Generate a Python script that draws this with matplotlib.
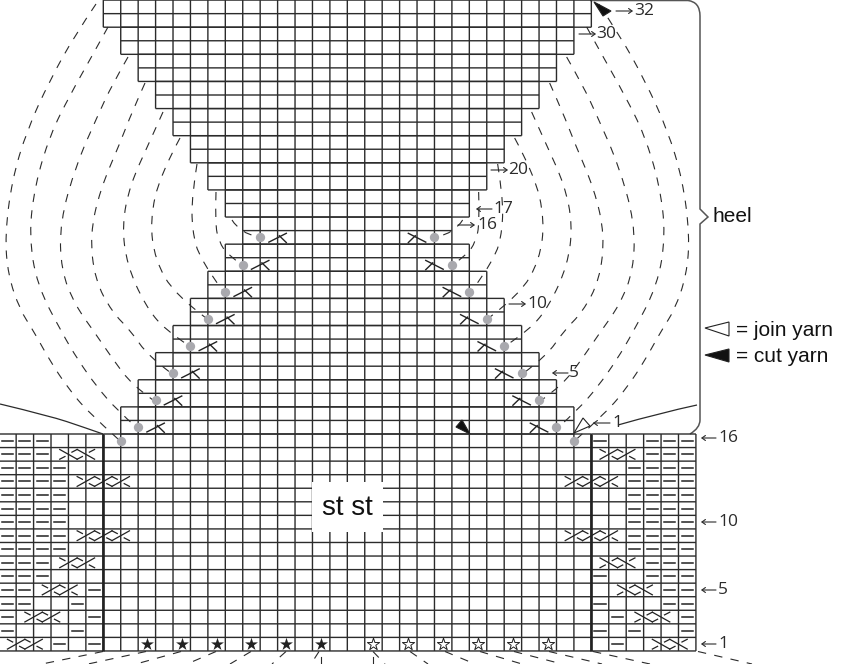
import numpy as np
import matplotlib
matplotlib.use('Agg')
import matplotlib.pyplot as plt
from matplotlib.path import Path as MplPath
from matplotlib.patches import PathPatch, Polygon, Rectangle

# chart layout, one stitch = W x H pixels, col 0 / heel row 0 at (X0, Y0)
W, H = 17.43, 13.56
X0, Y0 = 103.3, 434.0
DARK = '#2b2b2b'
MID = '#555555'

# heel rows (1 = bottom): first col of each row pair, from row 1 up
heel_left_cols = [1, 2, 3, 4, 5, 6, 7, 8, 7, 6, 5, 4, 3, 2, 1, 0]
RIB_ROWS = 16
BODY_COLS = 28
RIB_COLS = 6

# rib purl stitches, chart row: columns
left_purls = {16: [-6, -5, -4], 15: [-6, -5, -4], 14: [-6, -5, -4, -3],
              13: [-6, -5, -4, -3], 12: [-6, -5, -4, -3], 11: [-6, -5, -4, -3],
              10: [-6, -5, -4, -3], 9: [-6, -5, -4, -3], 8: [-6, -5, -4, -3],
              7: [-6, -5, -4], 6: [-6, -5, -4], 5: [-6, -5, -1], 4: [-6, -5, -2],
              3: [-6, -1], 2: [-6, -2], 1: [-3, -1]}
right_purls = {16: [28, 31, 32, 33], 15: [31, 32, 33], 14: [30, 31, 32, 33],
               13: [30, 31, 32, 33], 12: [30, 31, 32, 33], 11: [30, 31, 32, 33],
               10: [30, 31, 32, 33], 9: [30, 31, 32, 33], 8: [30, 31, 32, 33],
               7: [31, 32, 33], 6: [28, 31, 32, 33], 5: [32, 33], 4: [28, 32, 33],
               3: [29, 33], 2: [28, 30, 33], 1: [29]}

# cable crossings: (chart row, direction, grid lines they sit on)
crossings = [(15, -1, [-2, -1]), (13, 1, [-1, 0, 1]), (9, 1, [-1, 0, 1]),
             (7, 1, [-2, -1]), (5, 1, [-3, -2]), (3, 1, [-4, -3]), (1, 1, [-5, -4]),
             (15, 1, [29, 30]), (13, 1, [27, 28, 29]), (9, 1, [27, 28, 29]),
             (7, -1, [29, 30]), (5, -1, [30, 31]), (3, -1, [31, 32]), (1, -1, [32, 33])]

# slipped stitches at the heel shaping (dot col, heel row, 0 = last rib row)
dot_cols = [1, 2, 3, 4, 5, 6, 7, 8, 9]
dot_rows = [0, 1, 3, 5, 7, 9, 11, 13, 15]

filled_star_cols = [2, 4, 6, 8, 10, 12]
open_star_cols = [15, 17, 19, 21, 23, 25]

arcs_px = [
    [(96, 4), (75, 35), (50, 80), (27, 130), (12, 180), (5, 235), (8, 275), (20, 310),
     (33, 330), (50, 361), (68, 388), (88, 412), (118, 439)],
    [(108, 27), (92, 56), (70, 95), (50, 135), (35, 185), (29, 235), (37, 285),
     (62, 333), (78, 360), (97, 387), (117, 410), (136, 427)],
    [(128, 57), (112, 85), (98, 115), (76, 165), (60, 222), (61, 270), (75, 305),
     (95, 333), (112, 358), (132, 385), (153, 400)],
    [(145, 83), (132, 112), (120, 143), (100, 190), (90, 235), (95, 280), (112, 312),
     (131, 331), (148, 356), (171, 373)],
    [(163, 112), (149, 143), (130, 185), (122, 225), (127, 265), (145, 305), (165, 330),
     (188, 345)],
    [(180, 138), (160, 175), (150, 220), (155, 260), (175, 295), (206, 318)],
    [(197, 164), (192, 195), (192, 230), (200, 260), (223, 291)],
    [(216, 192), (215, 223), (219, 242), (228, 255), (241, 264)],
    [(232, 220), (240, 233), (258, 237)],
]

# fan of dashes below the chart: start on row 1 edge, end at image bottom
fan_left = [(103, 42), (146, 88), (181, 136), (216, 187), (251, 230), (286, 272), (319, 311)]
fan_right = [(373, 385), (410, 428), (445, 475), (480, 522), (514, 562), (549, 602),
             (593, 650), (698, 752)]
fan_vertical = [320.5, 373.0]

# (arrow start x, arrow end x, y, text, text x) in image pixels
row_labels = [(716, 701, 438, '16', 718), (716, 701, 522, '10', 718),
              (716, 701, 590, '5', 718), (716, 701, 644, '1', 718),
              (610, 593, 423, '1', 612), (568, 552, 373, '5', 569),
              (509, 526, 304, '10', 527), (458, 475, 225, '16', 477),
              (492, 476, 209, '17', 493), (491, 508, 170, '20', 508),
              (579, 596, 34, '30', 596), (616, 633, 11, '32', 634)]


def gx(px):
    return (np.asarray(px, dtype=float) - X0) / W


def gy(py):
    return (Y0 - np.asarray(py, dtype=float)) / H


def grid_pts(pts):
    pts = np.asarray(pts, dtype=float)
    return np.column_stack([gx(pts[:, 0]), gy(pts[:, 1])])


def smooth_path(pts):
    # chained quadratic curve through the read points
    verts = [pts[0]]
    codes = [MplPath.MOVETO]
    for i in range(1, len(pts) - 2):
        verts += [pts[i], (pts[i] + pts[i + 1]) / 2]
        codes += [MplPath.CURVE3, MplPath.CURVE3]
    verts += [pts[-2], pts[-1]]
    codes += [MplPath.CURVE3, MplPath.CURVE3]
    return MplPath(verts, codes)


fig = plt.figure(figsize=(8.43, 6.64), dpi=100)
ax = fig.add_axes([0, 0, 1, 1])
ax.set_xlim(gx(0), gx(843))
ax.set_ylim(gy(664), gy(0))
ax.axis('off')

grid_style = dict(colors=DARK, linewidth=1.0, zorder=2)


def draw_block(col_a, col_b, y_a, y_b):
    for art in (ax.vlines(np.arange(col_a, col_b + 1), y_a, y_b, **grid_style),
                ax.hlines(np.arange(y_a, y_b + 1), col_a, col_b, **grid_style)):
        art.set_snap(False)


# rib panels and body
draw_block(-RIB_COLS, 0, -RIB_ROWS, 0)
draw_block(0, BODY_COLS, -RIB_ROWS, 0)
draw_block(BODY_COLS, BODY_COLS + RIB_COLS, -RIB_ROWS, 0)
# heel, two rows per step
for i, col in enumerate(heel_left_cols):
    draw_block(col, BODY_COLS - col, 2 * i, 2 * i + 2)
for col in (0, BODY_COLS):
    ax.plot([col, col], [-RIB_ROWS, 0], color='#222222', lw=1.9, zorder=3,
            solid_capstyle='butt')

# rib symbols
for purls in (left_purls, right_purls):
    for row, cols in purls.items():
        y = row - RIB_ROWS - 0.5
        for col in cols:
            ax.plot([col + 0.18, col + 0.82], [y, y], color='#222222', lw=1.1, zorder=4)

for row, sign, lines in crossings:
    y = row - RIB_ROWS - 0.5
    for c in lines:
        ax.plot([c - 0.5, c + 0.5], [y - sign * 0.36, y + sign * 0.36], color='#222222',
                lw=0.9, zorder=4)
        ax.plot([c - 0.5, c - 0.2], [y + sign * 0.36, y + sign * 0.16], color='#222222',
                lw=0.9, zorder=4)
        ax.plot([c + 0.2, c + 0.5], [y - sign * 0.16, y - sign * 0.36], color='#222222',
                lw=0.9, zorder=4)

# slipped stitches and the decreases next to them
for col, row in zip(dot_cols, dot_rows):
    y = row - 0.5
    ax.scatter([col, BODY_COLS - col], [y, y], s=45, color='#a9a9ae', linewidths=0, zorder=6)
    if row <= 0:
        continue
    for c, sign in ((col + 1, 1), (BODY_COLS - col - 1, -1)):
        ax.plot([c - sign * 0.5, c + sign * 0.5], [y - 0.35, y + 0.3], color='#222222',
                lw=1.0, zorder=5)
        ax.plot([c + sign * 0.1, c + sign * 0.5], [y + 0.12, y - 0.38], color='#222222',
                lw=1.0, zorder=5)

# stars on row 1
star_y = -RIB_ROWS + 0.5
ax.scatter(np.array(filled_star_cols) + 0.5, [star_y] * len(filled_star_cols), marker='*',
           s=95, color='#222222', linewidths=0, zorder=5)
ax.scatter(np.array(open_star_cols) + 0.5, [star_y] * len(open_star_cols), marker='*',
           s=85, facecolor='white', edgecolor='#222222', linewidths=0.7, zorder=5)

# dashed arcs
dash = (0, (7.5, 7.5))
for arc in arcs_px:
    pts = grid_pts(arc)
    mirrored = pts.copy()
    mirrored[:, 0] = BODY_COLS - mirrored[:, 0]
    for p in (pts, mirrored):
        ax.add_patch(PathPatch(smooth_path(p), fill=False, edgecolor=DARK, lw=0.8,
                               linestyle=dash, zorder=1))

for start, end in fan_left + fan_right:
    ax.plot(gx([start, end]), gy([651.5, 664]), color=DARK, lw=0.8, linestyle=dash, zorder=1)
for px in fan_vertical:
    ax.plot(gx([px, px]), gy([657, 664]), color=DARK, lw=0.8, zorder=1)

# curves from the rib into the brace
ax.add_patch(PathPatch(smooth_path(grid_pts([(0, 404), (50, 416), (83, 427), (103, 434)])),
                       fill=False, edgecolor=DARK, lw=0.9, zorder=1))
ax.add_patch(PathPatch(smooth_path(grid_pts([(618, 425), (660, 413), (697, 405)])),
                       fill=False, edgecolor=DARK, lw=0.9, zorder=1))

# brace for the heel
brace = grid_pts([(590, 0.5), (688, 0.5), (700, 2), (700, 16), (700, 209), (708, 217), (700, 224),
                  (700, 420), (700, 428), (690, 434)])
brace_codes = [MplPath.MOVETO, MplPath.LINETO, MplPath.CURVE3, MplPath.CURVE3, MplPath.LINETO,
               MplPath.LINETO, MplPath.LINETO, MplPath.LINETO, MplPath.CURVE3, MplPath.CURVE3]
ax.add_patch(PathPatch(MplPath(brace, brace_codes), fill=False, edgecolor=MID, lw=1.1, zorder=1))

# yarn markers
for tri, fc in (([(456, 427), (462, 420), (470, 434)], '#111111'),
                ([(594, 2), (611, 11), (603, 16)], '#111111'),
                ([(574, 433), (583, 418), (590, 426)], 'white'),
                ([(705, 328), (729, 322), (729, 336)], 'white'),
                ([(705, 355), (729, 349), (729, 362)], '#111111')):
    ax.add_patch(Polygon(grid_pts(tri), closed=True, facecolor=fc, edgecolor='#222222',
                         lw=0.8, zorder=7))

# row number labels
for a_from, a_to, y, label, tx in row_labels:
    ax.annotate('', xy=(gx(a_to), gy(y)), xytext=(gx(a_from), gy(y)), zorder=8,
                arrowprops=dict(arrowstyle='->,head_length=0.25,head_width=0.18', lw=0.8,
                                color=DARK, shrinkA=0, shrinkB=0))
    ax.text(gx(tx), gy(y), label, family='Open Sans', fontsize=12.5, color=DARK, ha='left',
            va='center', zorder=8)

# text
ax.add_patch(Rectangle((gx(312), gy(532)), gx(383) - gx(312), gy(482) - gy(532),
                       facecolor='white', edgecolor='none', zorder=3.5))
ax.text(gx(347.5), gy(508), 'st st', family='Liberation Sans', fontsize=20, color='#111111',
        ha='center', va='center', zorder=8)
ax.text(gx(712), gy(216), 'heel', family='Liberation Sans', fontsize=15, color='#111111',
        ha='left', va='center', zorder=8)
ax.text(gx(736), gy(331), '= join yarn', family='Liberation Sans', fontsize=15, color='#111111',
        ha='left', va='center', zorder=8)
ax.text(gx(736), gy(356), '= cut yarn', family='Liberation Sans', fontsize=15, color='#111111',
        ha='left', va='center', zorder=8)

fig.savefig('out.png', dpi=100)
